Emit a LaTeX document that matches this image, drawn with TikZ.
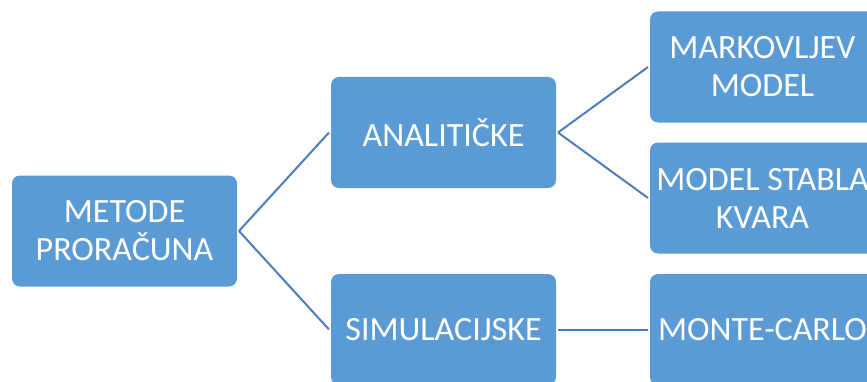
\documentclass[tikz,border=0pt]{standalone}
\usepackage{fontspec}
\setmainfont{Carlito}
\definecolor{boxblue}{HTML}{5B9BD5}
\definecolor{lineblue}{HTML}{4A7EBB}
\begin{document}
\begin{tikzpicture}[x=1pt,y=1pt,
  box/.style={fill=boxblue, rounded corners=8pt, minimum width=225pt, minimum height=111pt,
    inner sep=0pt, outer sep=2pt, text=white, align=center,
    font=\fontsize{34}{38}\selectfont},
  link/.style={draw=lineblue, line width=2pt}]
\useasboundingbox (0,0) rectangle (867,381);
\clip (0,0) rectangle (867,381);
\node[box] (metode) at (124.5,150) {METODE\\PRORAČUNA};
\node[box] (anal) at (443.5,248.5) {ANALITIČKE};
\node[box] (sim) at (443.5,51.5) {SIMULACIJSKE};
\node[box] (mark) at (762.5,314) {MARKOVLJEV\\MODEL};
\node[box] (stabla) at (762.5,183) {MODEL STABLA\\KVARA};
\node[box] (monte) at (762.5,51.5) {MONTE-CARLO};
\draw[link] (metode.east) -- (anal.west);
\draw[link] (metode.east) -- (sim.west);
\draw[link] (anal.east) -- (mark.west);
\draw[link] (anal.east) -- (stabla.west);
\draw[link] (sim.east) -- (monte.west);
\end{tikzpicture}
\end{document}
